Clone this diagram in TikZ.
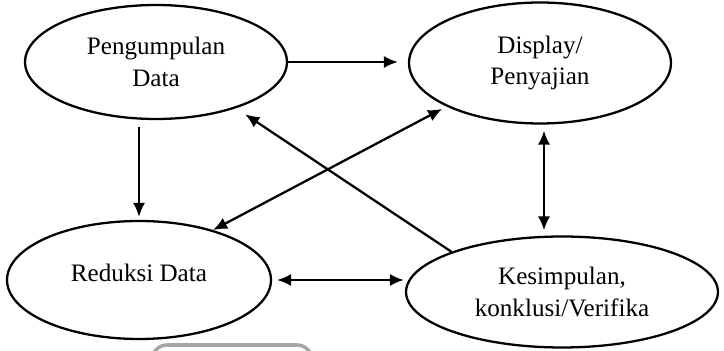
\documentclass[tikz,border=0pt]{standalone}
\usepackage{fontspec}
\setmainfont{Liberation Serif}
\usetikzlibrary{arrows.meta,shapes.geometric}
\tikzset{bubble/.style={draw, ellipse, inner sep=0pt, align=center}}
\begin{document}
\begin{tikzpicture}[x=0.02cm, y=0.02cm, line width=1.3pt, font=\fontsize{14.3}{18.2}\selectfont, line join=round, >={Latex[length=8pt,width=7pt]}]
\useasboundingbox (0,0) rectangle (724,351);
\clip (0,0) rectangle (724,351);
\node[bubble, minimum width=5.24cm, minimum height=2.28cm] (peng) at (156,289) {Pengumpulan\\Data};
\node[bubble, minimum width=5.24cm, minimum height=2.42cm] (disp) at (540,288) {Display/\\Penyajian};
\node[bubble, minimum width=5.28cm, minimum height=2.36cm, text depth=0.28cm] (redu) at (139,71) {Reduksi Data};
\node[bubble, minimum width=6.24cm, minimum height=2.22cm] (kes) at (562,59) {Kesimpulan,\\konklusi/Verifika};
\coordinate (dtop) at ([xshift=0.08cm]disp.south);
\draw[->, shorten >=0.2cm] (peng.east) -- (peng.east -| disp.west);
\draw[->, shorten <=0.14cm, shorten >=0.06cm] (redu.north |- peng.south) -- (redu.north);
\draw[->, shorten >=0.22cm] (kes.160) -- (peng.-30);
\draw[<->, shorten <=0.1cm] (disp.205) -- (redu.34);
\draw[<->, shorten <=0.12cm, shorten >=0.1cm] (dtop) -- (dtop |- kes.north);
\draw[<->, shorten <=0.1cm, shorten >=0.02cm] (redu.east) -- (redu.east -| kes.west);
\draw[gray!70, line width=2pt, rounded corners=0.3cm] (152,-30) rectangle (312,6);
\end{tikzpicture}
\end{document}
